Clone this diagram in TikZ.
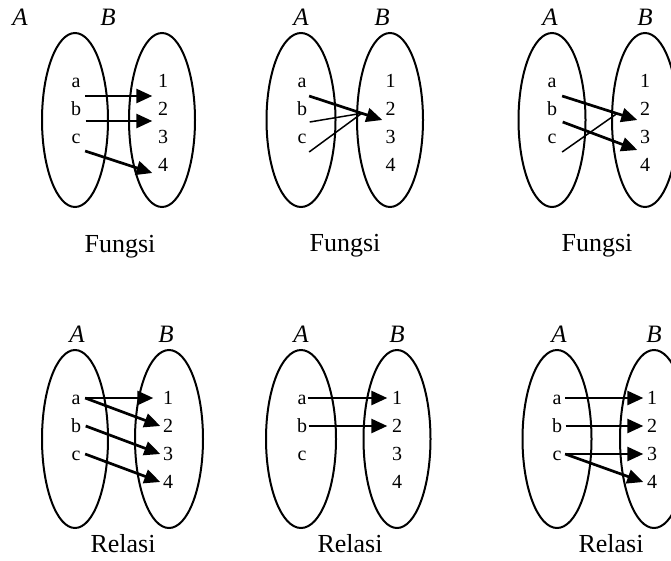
\documentclass[tikz,border=0pt]{standalone}
\usepackage{fontspec}
\setmainfont{Liberation Serif}
\usepackage{tikz}
\usetikzlibrary{arrows.meta,positioning,shapes.geometric}

\begin{document}
\begin{tikzpicture}[
  x=1pt, y=-1pt,
  setshape/.style={draw, ellipse, line width=2pt, inner sep=0pt,
    minimum width=67pt, minimum height=174pt},
  setlbl/.style={font=\fontsize{25}{25}\selectfont\itshape,
    inner sep=0pt, text depth=0pt},
  elm/.style={font=\fontsize{20}{20}\selectfont, inner ysep=0pt,
    text height=12pt, text depth=0pt},
  src/.style={elm, inner xsep=#1}, src/.default=4pt,
  dst/.style={elm, inner xsep=#1}, dst/.default=4pt,
  title/.style={font=\fontsize{26}{26}\selectfont, anchor=base},
  arr/.style={-{Triangle[length=16pt,width=14pt]}, line width=2.7pt},
  thin/.style={line width=1.5pt}
]
\useasboundingbox (0,0) rectangle (671,560);

% Fungsi 1
\node[setshape, minimum width=66pt] (sA1) at (75,120) {};
\node[setshape, minimum width=66pt] (sB1) at (162,120) {};
\node[setlbl, above=6pt of sA1, xshift=-55pt] (lA1) {A};
\node[setlbl, above=6pt of sB1, xshift=-54pt] (lB1) {B};
\node[src=4.5pt] (a1) at (76,81) {a};
\node[src=4.5pt] (b1) at (76,109) {b};
\node[src=4.5pt] (c1) at (76,137) {c};
\node[dst=5.5pt] (p1n1) at (163,81) {1};
\node[dst=5.5pt] (p1n2) at (163,109) {2};
\node[dst=5.5pt] (p1n3) at (163,137) {3};
\node[dst=5.5pt] (p1n4) at (163,165) {4};
\draw[arr] ([yshift=-15pt]a1.east) -- ([yshift=-15pt]p1n1.west);
\draw[arr] ([yshift=-12pt]b1.east) -- ([yshift=-12pt]p1n2.west);
\draw[arr] ([yshift=-14pt]c1.east) -- ([yshift=-8pt]p1n4.west);
\node[title] (f1) at (120,252) {Fungsi};

% Fungsi 2
\node[setshape, minimum width=69pt] (sA2) at (301,120) {};
\node[setshape, minimum width=66pt] (sB2) at (390,120) {};
\node[setlbl, above=6pt of sA2] (lA2) {A};
\node[setlbl, above=6pt of sB2, xshift=-8pt] (lB2) {B};
\node[src=2.5pt] (a2) at (302,81) {a};
\node[src=2.5pt] (b2) at (302,109) {b};
\node[src=2.5pt] (c2) at (302,137) {c};
\node[dst=3pt] (p2n1) at (390.5,81) {1};
\node[dst=3pt] (p2n2) at (390.5,109) {2};
\node[dst=3pt] (p2n3) at (390.5,137) {3};
\node[dst=3pt] (p2n4) at (390.5,165) {4};
\draw[arr] ([yshift=-15pt]a2.east) -- coordinate[pos=.72] (m2)
  ([yshift=-11pt]p2n2.west);
\draw[thin] ([yshift=-13pt]b2.east) -- (m2);
\draw[thin] ([yshift=-15pt]c2.east) -- (m2);
\node[title] (f2) at (345,251) {Fungsi};

% Fungsi 3
\node[setshape] (sA3) at (552,120) {};
\node[setshape, minimum width=66pt] (sB3) at (645,120) {};
\node[setlbl, above=6pt of sA3, xshift=-2pt] (lA3) {A};
\node[setlbl, above=6pt of sB3] (lB3) {B};
\node[src=5.5pt] (a3) at (552,81) {a};
\node[src=5.5pt] (b3) at (552,109) {b};
\node[src=5.5pt] (c3) at (552,137) {c};
\node[dst=2.5pt] (p3n1) at (645,81) {1};
\node[dst=2.5pt] (p3n2) at (645,109) {2};
\node[dst=2.5pt] (p3n3) at (645,137) {3};
\node[dst=2.5pt] (p3n4) at (645,165) {4};
\draw[arr] ([yshift=-15pt]a3.east) -- coordinate[pos=.73] (m3)
  ([yshift=-11pt]p3n2.west);
\draw[arr] ([yshift=-13pt]b3.east) -- ([yshift=-13pt]p3n3.west);
\draw[thin] ([yshift=-15pt]c3.east) -- (m3);
\node[title] (f3) at (597,251) {Fungsi};

% Relasi 1
\node[setshape, minimum width=66pt, minimum height=178pt] (sA4) at (75,439) {};
\node[setshape, minimum width=68pt, minimum height=178pt] (sB4) at (169,439) {};
\node[setlbl, above=6pt of sA4, xshift=2pt] (lA4) {A};
\node[setlbl, above=6pt of sB4, xshift=-3pt] (lB4) {B};
\node[src=4.5pt] (a4) at (76,398) {a};
\node[src=4.5pt] (b4) at (76,426) {b};
\node[src=4.5pt] (c4) at (76,454) {c};
\node[dst=2.5pt] (p4n1) at (168,398) {1};
\node[dst=2.5pt] (p4n2) at (168,426) {2};
\node[dst=2.5pt] (p4n3) at (168,454) {3};
\node[dst=2.5pt] (p4n4) at (168,482) {4};
\draw[arr, shorten >=7pt] (a4.east) -- (p4n1.west);
\draw[arr] (a4.east) -- (p4n2.west);
\draw[arr] (b4.east) -- (p4n3.west);
\draw[arr] (c4.east) -- (p4n4.west);
\node[title] (r1) at (123,552) {Relasi};

% Relasi 2
\node[setshape, minimum width=70pt, minimum height=178pt] (sA5) at (301,439) {};
\node[setshape, minimum height=178pt] (sB5) at (397,439) {};
\node[setlbl, above=6pt of sA5] (lA5) {A};
\node[setlbl, above=6pt of sB5] (lB5) {B};
\node[src=1.5pt] (a5) at (302,398) {a};
\node[src=1.5pt] (b5) at (302,426) {b};
\node[src=1.5pt] (c5) at (302,454) {c};
\node[dst=4.5pt] (p5n1) at (397,398) {1};
\node[dst=4.5pt] (p5n2) at (397,426) {2};
\node[dst=4.5pt] (p5n3) at (397,454) {3};
\node[dst=4.5pt] (p5n4) at (397,482) {4};
\draw[arr] (a5.east) -- (p5n1.west);
\draw[arr] (b5.east) -- (p5n2.west);
\node[title] (r2) at (350,552) {Relasi};

% Relasi 3
\node[setshape, minimum width=69pt, minimum height=178pt] (sA6) at (557,439) {};
\node[setshape, minimum width=68pt, minimum height=178pt] (sB6) at (654,439) {};
\node[setlbl, above=6pt of sA6, xshift=2pt] (lA6) {A};
\node[setlbl, above=6pt of sB6] (lB6) {B};
\node[src=3.5pt] (a6) at (557,398) {a};
\node[src=3.5pt] (b6) at (557,426) {b};
\node[src=3.5pt] (c6) at (557,454) {c};
\node[dst=3.5pt] (p6n1) at (652,398) {1};
\node[dst=3.5pt] (p6n2) at (652,426) {2};
\node[dst=3.5pt] (p6n3) at (652,454) {3};
\node[dst=3.5pt] (p6n4) at (652,482) {4};
\draw[arr] (a6.east) -- (p6n1.west);
\draw[arr] (b6.east) -- (p6n2.west);
\draw[arr] (c6.east) -- (p6n3.west);
\draw[arr] (c6.east) -- (p6n4.west);
\node[title] (r3) at (611,552) {Relasi};

\end{tikzpicture}
\end{document}
